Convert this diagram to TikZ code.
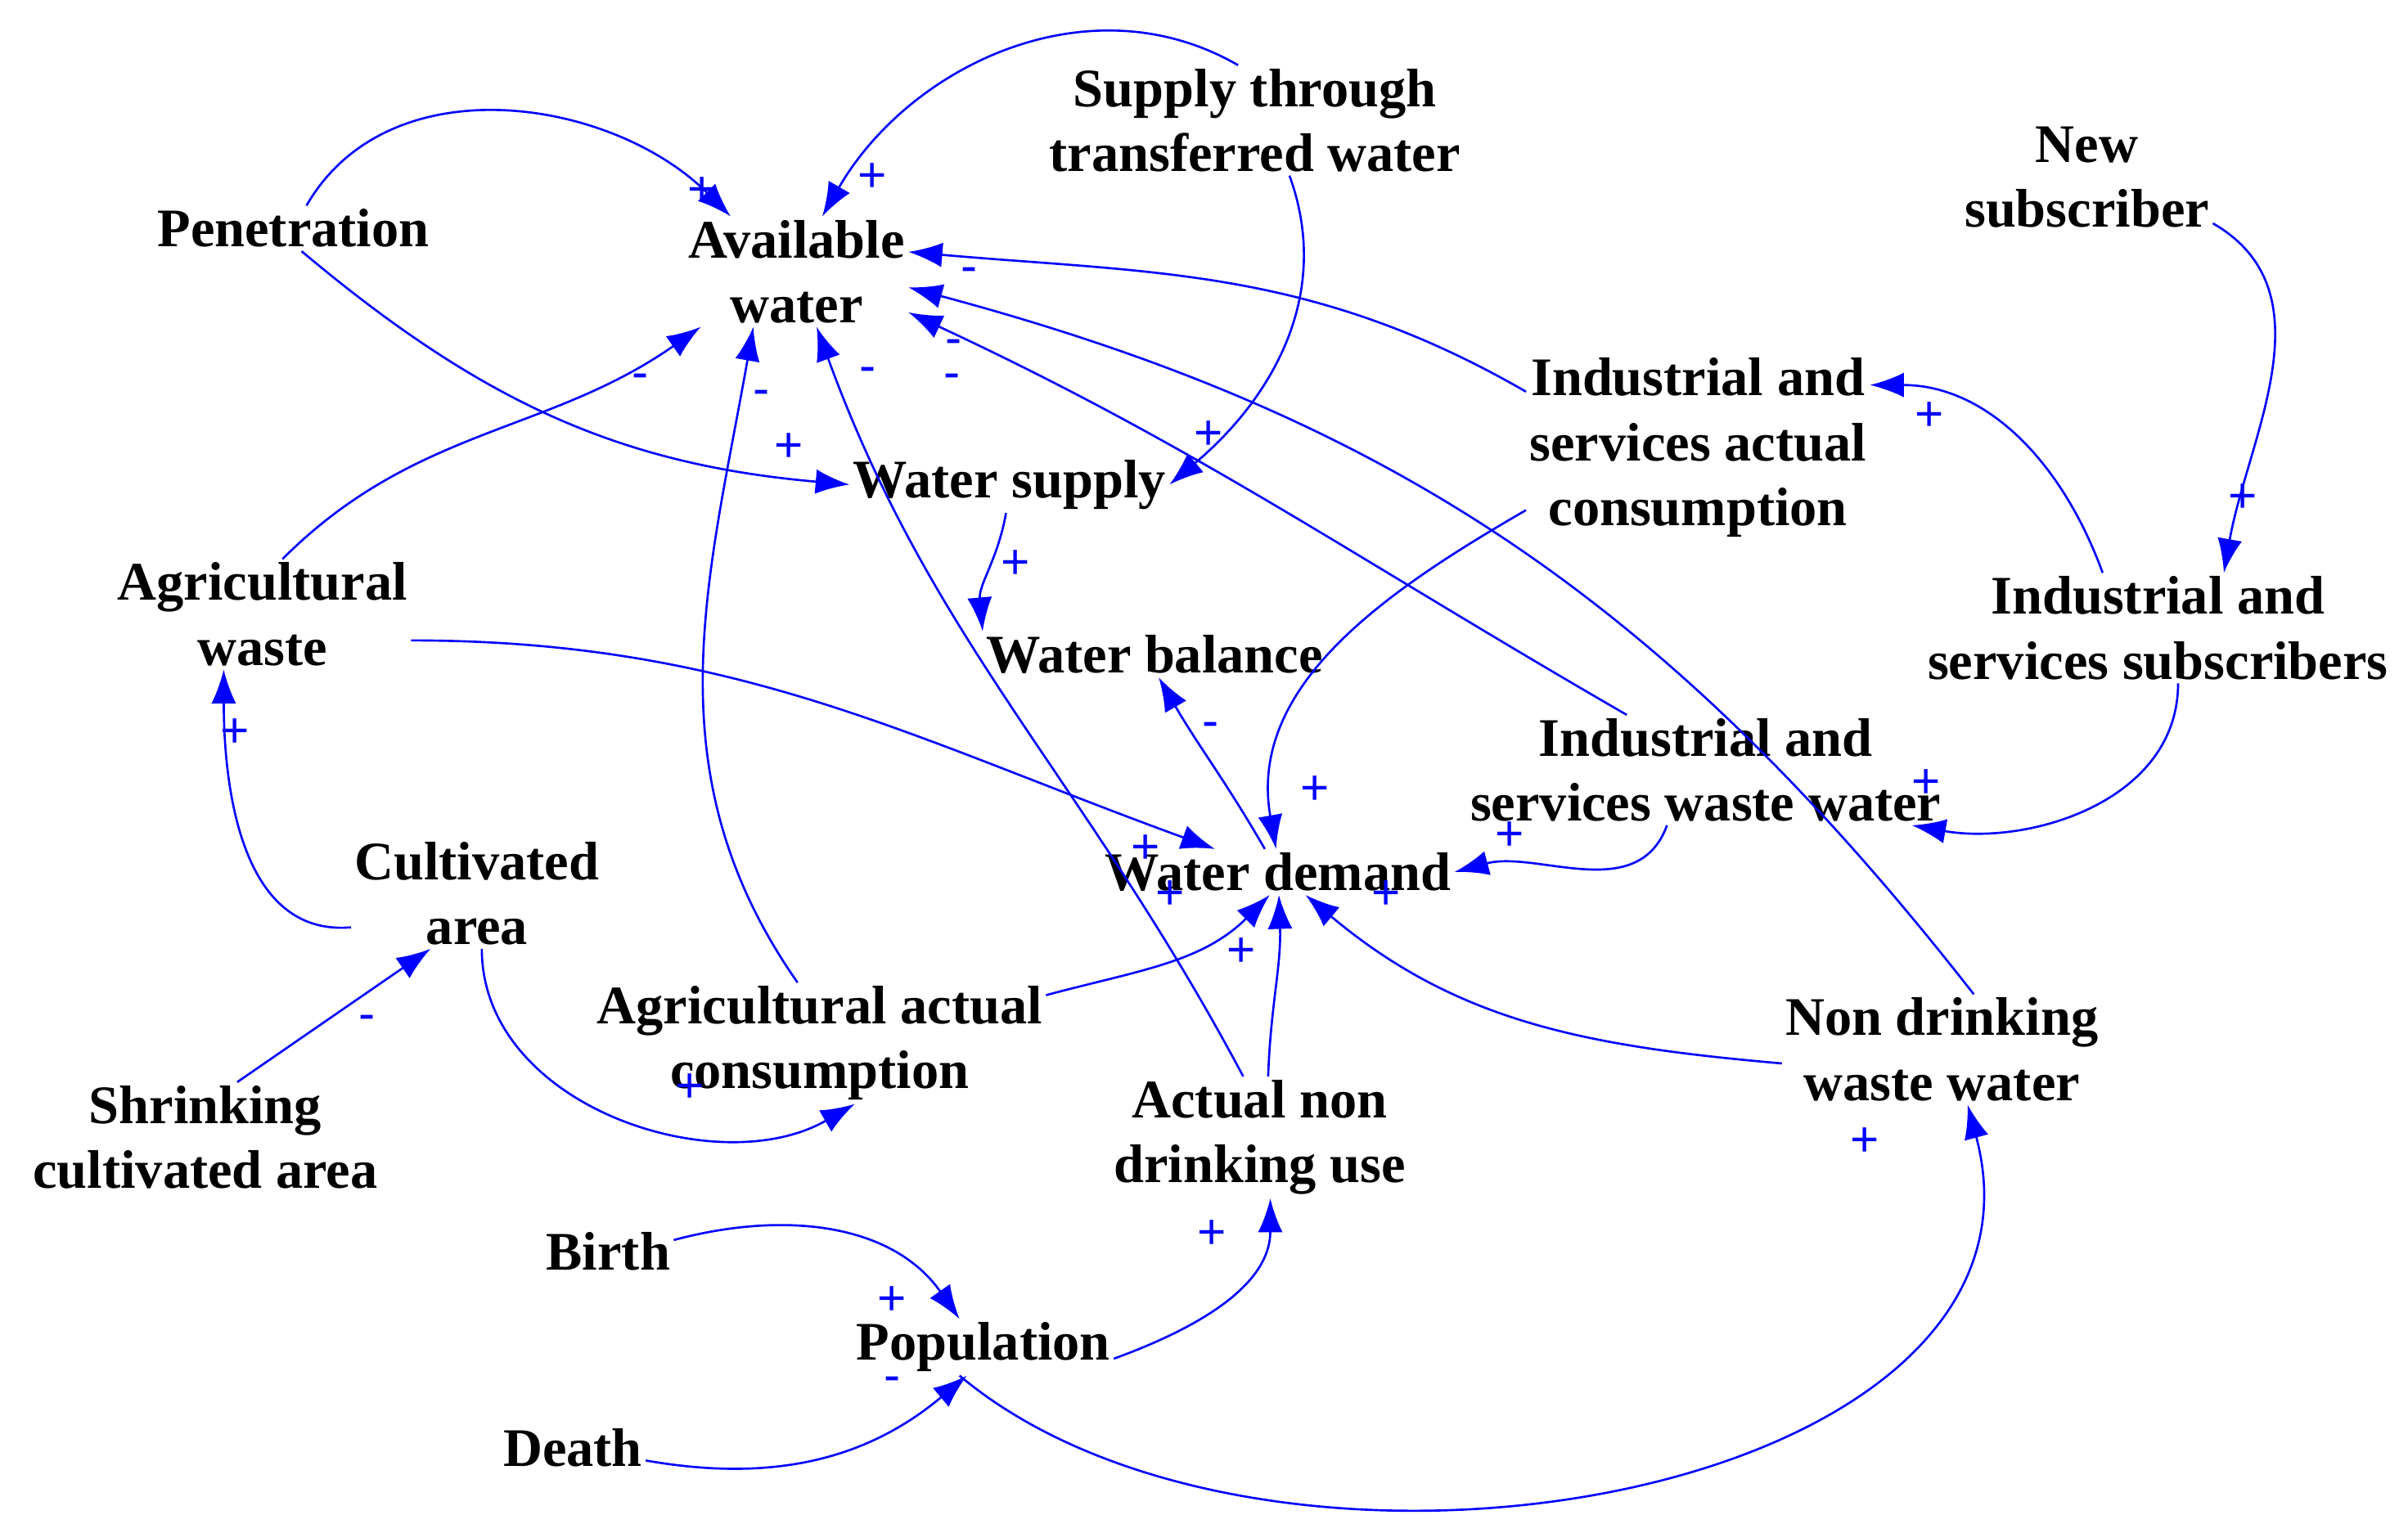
\documentclass[tikz,border=0pt]{standalone}
\usepackage{fontspec}
\setmainfont{Liberation Serif}
\newfontfamily\lblfont{Liberation Sans}
\usetikzlibrary{arrows.meta}
\begin{document}
\begin{tikzpicture}[x=0.5pt,y=-0.5pt,
  var/.style={font=\fontsize{17.6}{21}\selectfont\bfseries,align=center,inner sep=1pt},
  lk/.style={draw=blue,line width=0.7pt,-{Latex[length=11pt,width=8pt]}},
  pm/.style={text=blue,font=\lblfont\fontsize{16}{16}\selectfont,inner sep=0pt}]
\useasboundingbox (0,0) rectangle (1560,987);
\node[var] (avail) at (516,176) {Available\\water};
\node[var] (supply) at (813,78) {Supply through\\transferred water};
\node[var] (newsub) at (1352,115) {New\\subscriber};
\node[var] (pen) at (190,148) {Penetration};
\node[var] (wsupply) at (654,314) {Water supply};
\node[var] (indcons) at (1100,290) {Industrial and\\services actual\\consumption};
\node[var] (agw) at (170,398) {Agricultural\\waste};
\node[var] (wbal) at (748,424) {Water balance};
\node[var] (indsub) at (1398,407) {Industrial and\\services subscribers};
\node[var] (indww) at (1105,499) {Industrial and\\services waste water};
\node[var] (wdemand) at (828,565) {Water demand};
\node[var] (cult) at (309,579) {Cultivated\\area};
\node[var] (agcons) at (531,676) {Agricultural actual\\consumption};
\node[var] (nondww) at (1258,680) {Non drinking\\waste water};
\node[var] (shrink) at (133,737) {Shrinking\\cultivated area};
\node[var] (actual) at (816,737) {Actual non\\drinking use};
\node[var] (birth) at (394,811) {Birth};
\node[var] (pop) at (637,873) {Population};
\node[var] (death) at (371,938) {Death};

\draw[lk] (pen.60) to[out=60,in=135] (avail.140);
\draw[lk] (supply.107) to[out=150,in=60] (avail.65);
\draw[lk] (pen.-70) to[out=-40,in=175] (wsupply.west);
\draw[lk] (supply.-58) to[out=-70,in=40] (wsupply.east);
\draw[lk] (indcons.162) to[out=150,in=-5] (avail.10);
\draw[lk] (agw.70) to[out=45,in=215] (avail.210);
\draw[lk] (agcons.110) to[out=125,in=-100] (avail.232);
\draw[lk] (actual.105) to[out=118,in=-70] (avail.290);
\draw[lk] (indww.145) to[out=150,in=-25] (avail.340);
\draw[lk] (nondww.60) to[out=128,in=-15] (avail.352);
\draw[lk] (wsupply.-97) to[out=-100,in=95] (wbal.north west);
\draw[lk] (wdemand.120) to[out=120,in=-60] (wbal.-80);
\draw[lk] (indcons.200) to[out=-150,in=100] (wdemand.95);
\draw[lk] (newsub.-20) to[out=-30,in=80] (indsub.40);
\draw[lk] (indsub.135) to[out=110,in=0] (indcons.20);
\draw[lk] (indsub.-70) to[out=-90,in=-10] (indww.-15);
\draw[lk] (indww.-125) to[out=-110,in=15] (wdemand.east);
\draw[lk] (agw.-10) to[out=0,in=160] (wdemand.160);
\draw[lk] (agcons.12) to[out=15,in=-135] (wdemand.-110);
\draw[lk] (actual.82) to[out=88,in=-88] (wdemand.-88);
\draw[lk] (nondww.185) to[out=175,in=-40] (wdemand.-40);
\draw[lk] (cult.195) to[out=185,in=-90] (agw.-125);
\draw[lk] (shrink.60) -- (cult.-130);
\draw[lk] (cult.-85) to[out=-90,in=-150] (agcons.-60);
\draw[lk] (birth.10) to[out=15,in=125] (pop.130);
\draw[lk] (death.-10) to[out=-10,in=-140] (pop.-120);
\draw[lk] (pop.-5) to[out=20,in=-90] (actual.-80);
\draw[lk] (pop.-130) to[out=-40,in=-75] (nondww.-65);

\node[pm] (l1) at (455,124) {+};
\node[pm] (l2) at (565,115) {+};
\node[pm] (l3) at (511,290) {+};
\node[pm] (l5) at (628,178) {-};
\node[pm] (l6) at (415,247) {-};
\node[pm] (l7) at (493,258) {-};
\node[pm] (l8) at (562,243) {-};
\node[pm] (l9) at (617,247) {-};
\node[pm] (l10) at (618,225) {-};
\node[pm] (l11) at (658,366) {+};
\node[pm] (l12) at (784,473) {-};
\node[pm] (l13) at (852,512) {+};
\node[pm] (l14) at (1453,323) {+};
\node[pm] (l15) at (1250,270) {+};
\node[pm] (l15b) at (783,282) {+};
\node[pm] (l16) at (1248,508) {+};
\node[pm] (l17) at (978,542) {+};
\node[pm] (l18) at (742,550) {+};
\node[pm] (l19) at (758,580) {+};
\node[pm] (l20) at (804,617) {+};
\node[pm] (l21) at (898,580) {+};
\node[pm] (l22) at (152,475) {+};
\node[pm] (l23) at (238,663) {-};
\node[pm] (l24) at (447,705) {+};
\node[pm] (l25) at (578,843) {+};
\node[pm] (l26) at (578,897) {-};
\node[pm] (l27) at (785,800) {+};
\node[pm] (l28) at (1208,740) {+};
\end{tikzpicture}
\end{document}
